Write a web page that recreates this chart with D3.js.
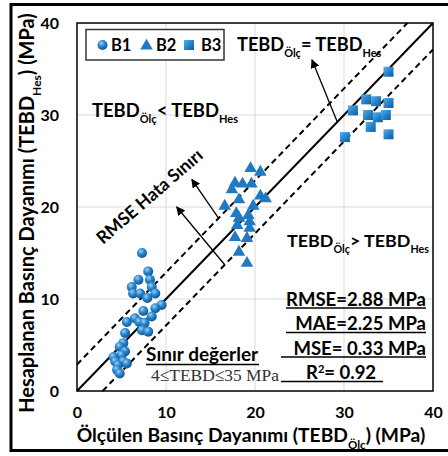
<!DOCTYPE html>
<html>
<head>
<meta charset="utf-8">
<script src="https://cdn.jsdelivr.net/npm/d3@7"></script>
<style>
  html, body { margin: 0; background: #fff; overflow: hidden; }
  svg { display: block; }
  text { font-family: Lato, "Open Sans", sans-serif; font-weight: bold; fill: #000; }
</style>
</head>
<body>
<div id="chart"></div>
<script>
// measured (Ölç) vs predicted (Hes) values, MPa
const b1Measured  = [7.3, 8.0, 6.9, 8.2, 6.15, 8.4, 6.3, 7.1, 8.8, 7.9, 9.5, 8.8, 7.45, 6.5, 8.4, 5.6, 7.0, 7.6, 5.4, 7.3, 8.0, 5.2, 4.8, 5.4, 5.0, 4.1, 4.3, 5.2, 5.6, 4.6, 4.5, 4.8];
const b1Predicted = [15.0, 13.0, 12.1, 12.1, 11.3, 11.3, 10.6, 10.6, 10.6, 10.1, 9.35, 9.0, 8.7, 7.9, 8.1, 7.5, 7.5, 7.4, 6.3, 6.6, 6.45, 5.2, 4.8, 4.3, 3.9, 3.7, 3.2, 3.2, 3.0, 2.8, 2.3, 1.9];
const b2Measured  = [19.5, 20.6, 17.75, 18.6, 19.6, 17.4, 18.2, 20.6, 21.2, 16.6, 19.8, 17.9, 19.25, 18.2, 19.4, 18.0, 19.4, 17.75, 19.1, 18.2, 19.1];
const b2Predicted = [24.2, 23.8, 22.6, 22.5, 22.5, 21.9, 20.8, 21.2, 20.9, 20.1, 20.1, 19.3, 19.1, 18.8, 18.4, 18.0, 17.7, 16.7, 16.6, 15.1, 13.9];
const b3Measured  = [35.0, 32.5, 33.6, 35.0, 31.0, 32.7, 33.8, 34.7, 33.0, 30.1, 35.0];
const b3Predicted = [34.7, 31.7, 31.5, 31.3, 30.5, 30.0, 29.75, 30.0, 28.7, 27.6, 27.9];

const axisTicks = [0, 10, 20, 30, 40];
const rmseBand = 2.88;
const seriesNames = ["B1", "B2", "B3"];
const statLabels = ["RMSE=2.88 MPa", "MAE=2.25 MPa", "MSE= 0.33 MPa"];
const r2Label = "= 0.92";
// arrows: [fromX, fromY, toX, toY] in data units
const arrowLines = [[29.25, 29.25, 26.4, 36.0], [15.9, 18.78, 12.9, 23.0], [16.6, 13.72, 11.2, 20.0]];

const margin = { top: 23, left: 77, right: 15, bottom: 65 },
  width = 448 - margin.left - margin.right,
  height = 456 - margin.top - margin.bottom;

const svg = d3.select("#chart").append("svg")
  .attr("width", 448).attr("height", 456);

// outer frame (right side falls outside the picture)
svg.append("rect")
  .attr("x", 11).attr("y", 4.5).attr("width", 445).attr("height", 446)
  .attr("fill", "none").attr("stroke", "#000").attr("stroke-width", 3);

const defs = svg.append("defs");
const ball = defs.append("radialGradient").attr("id", "ball")
  .attr("cx", "38%").attr("cy", "32%").attr("r", "70%");
ball.append("stop").attr("offset", "0%").attr("stop-color", "#9ad0f5");
ball.append("stop").attr("offset", "45%").attr("stop-color", "#2d8ad3");
ball.append("stop").attr("offset", "100%").attr("stop-color", "#0b528f");
const bevel = defs.append("linearGradient").attr("id", "bevel")
  .attr("x1", "0").attr("y1", "0").attr("x2", "1").attr("y2", "1");
bevel.append("stop").attr("offset", "0%").attr("stop-color", "#5aaee8");
bevel.append("stop").attr("offset", "55%").attr("stop-color", "#2280c9");
bevel.append("stop").attr("offset", "100%").attr("stop-color", "#125a94");
defs.append("marker").attr("id", "head")
  .attr("viewBox", "0 0 10 10").attr("refX", 9).attr("refY", 5)
  .attr("markerWidth", 9).attr("markerHeight", 9)
  .attr("markerUnits", "userSpaceOnUse").attr("orient", "auto")
  .append("path").attr("d", "M0,0L10,5L0,10z").attr("fill", "#000");

const g = svg.append("g")
  .attr("transform", "translate(" + margin.left + "," + margin.top + ")");

const x = d3.scaleLinear().domain([0, 40]).range([0, width]);
const y = d3.scaleLinear().domain([0, 40]).range([height, 0]);

// gridlines
g.append("g").selectAll("line").data(axisTicks.slice(1, -1)).join("line")
  .attr("x1", d => x(d)).attr("x2", d => x(d)).attr("y1", 0).attr("y2", height)
  .attr("stroke", "#d9d9d9");
g.append("g").selectAll("line").data(axisTicks.slice(1, -1)).join("line")
  .attr("y1", d => y(d)).attr("y2", d => y(d)).attr("x1", 0).attr("x2", width)
  .attr("stroke", "#d9d9d9");

// axes
const xAxis = g.append("g").attr("transform", "translate(0," + height + ")")
  .call(d3.axisBottom(x).tickValues(axisTicks).tickSize(0).tickPadding(16));
const yAxis = g.append("g")
  .call(d3.axisLeft(y).tickValues(axisTicks).tickSize(0).tickPadding(18));
[xAxis, yAxis].forEach(a => {
  a.select(".domain").remove();
  a.selectAll("text").style("font-size", "16px")
    .style("font-family", "Lato, sans-serif").style("font-weight", "bold");
});

g.append("rect").attr("width", width).attr("height", height)
  .attr("fill", "none").attr("stroke", "#000").attr("stroke-width", 1.5);

// 1:1 line and RMSE band
const line = d3.line().x(d => x(d[0])).y(d => y(d[1]));
g.append("path").attr("d", line([[0, 0], [40, 40]]))
  .attr("stroke", "#000").attr("stroke-width", 2).attr("fill", "none");
g.append("path").attr("d", line([[0, rmseBand], [40 - rmseBand, 40]]))
  .attr("stroke", "#000").attr("stroke-width", 2).attr("stroke-dasharray", "6,4").attr("fill", "none");
g.append("path").attr("d", line([[rmseBand, 0], [40, 40 - rmseBand]]))
  .attr("stroke", "#000").attr("stroke-width", 2).attr("stroke-dasharray", "6,4").attr("fill", "none");

// arrows
g.append("g").selectAll("line").data(arrowLines).join("line")
  .attr("x1", d => x(d[0])).attr("y1", d => y(d[1]))
  .attr("x2", d => x(d[2])).attr("y2", d => y(d[3]))
  .attr("stroke", "#000").attr("stroke-width", 1.3).attr("marker-end", "url(#head)");

// points
g.append("g").selectAll("circle").data(d3.zip(b1Measured, b1Predicted)).join("circle")
  .attr("cx", d => x(d[0])).attr("cy", d => y(d[1])).attr("r", 5)
  .attr("fill", "url(#ball)");
const tri = d3.symbol().type(d3.symbolTriangle).size(68);
g.append("g").selectAll("path").data(d3.zip(b2Measured, b2Predicted)).join("path")
  .attr("transform", d => "translate(" + x(d[0]) + "," + y(d[1]) + ")")
  .attr("d", tri).attr("fill", "#2079c3");
const sq = d3.symbol().type(d3.symbolSquare).size(100);
g.append("g").selectAll("path").data(d3.zip(b3Measured, b3Predicted)).join("path")
  .attr("transform", d => "translate(" + x(d[0]) + "," + y(d[1]) + ")")
  .attr("d", sq).attr("fill", "url(#bevel)");

// text with subscripts, sizes in em so the whole label can be rescaled
function richText(parent, parts, size) {
  const t = parent.append("text").style("font-size", size + "px");
  let shift = 0;
  parts.forEach(([s, sub]) => {
    const target = sub ? 0.34 : 0;
    const own = sub ? 0.6 : 1;
    t.append("tspan").attr("dy", ((target - shift) / own) + "em")
      .style("font-size", sub ? "0.6em" : null).text(s);
    shift = target;
  });
  return t;
}

// scale a label's font so its drawn width matches the reference
function fit(t, target) {
  const fs = parseFloat(t.style("font-size"));
  const len = t.node().getBBox().width;
  t.style("font-size", (fs * target / len) + "px");
  return t;
}

// legend
svg.append("rect").attr("x", 86).attr("y", 29.5).attr("width", 138).attr("height", 30.5)
  .attr("fill", "#fff").attr("stroke", "#333").attr("stroke-width", 1.5);
const lg = svg.append("g");
lg.append("circle").attr("cx", 102.5).attr("cy", 45).attr("r", 5).attr("fill", "url(#ball)");
lg.append("path").attr("transform", "translate(146.5,46)").attr("d", tri).attr("fill", "#2079c3");
lg.append("path").attr("transform", "translate(189,45)").attr("d", sq).attr("fill", "url(#bevel)");
lg.selectAll("text").data(seriesNames).join("text")
  .attr("x", (d, i) => [111, 156, 201][i]).attr("y", 51)
  .style("font-size", "16.5px").text(d => d);

// annotations
richText(svg, [["TEBD"], ["Ölç", 1], ["= TEBD"], ["Hes", 1]], 18.2)
  .attr("x", 237).attr("y", 51);
richText(svg, [["TEBD"], ["Ölç", 1], ["< TEBD"], ["Hes", 1]], 18.4)
  .attr("x", 92).attr("y", 117);
richText(svg, [["TEBD"], ["Ölç", 1], ["> TEBD"], ["Hes", 1]], 17.9)
  .attr("x", 287).attr("y", 247);
fit(svg.append("text").attr("transform", "translate(103,245) rotate(-41)")
  .style("font-size", "15px").text("RMSE Hata Sınırı"), 134);

// statistics box
const stats = statLabels.map((s, i) => svg.append("text")
  .attr("x", 426).attr("y", 306 + i * 24.3)
  .attr("text-anchor", "end").style("font-size", "18px").text(s));
fit(stats[0], 140);
const statSize = stats[0].style("font-size");
stats.forEach(t => t.style("font-size", statSize));
const r2 = svg.append("text").attr("x", 306).attr("y", 379).style("font-size", statSize);
r2.append("tspan").text("R");
r2.append("tspan").attr("dy", "-0.55em").style("font-size", "0.6em").text("2");
r2.append("tspan").attr("dy", "0.33em").text(r2Label);
const underlines = [[286, 426, 308], [286, 426, 332.5], [281, 426, 357], [281, 383, 381.5]];
svg.append("g").selectAll("line").data(underlines).join("line")
  .attr("x1", d => d[0]).attr("x2", d => d[1]).attr("y1", d => d[2]).attr("y2", d => d[2])
  .attr("stroke", "#000").attr("stroke-width", 1.5);

fit(svg.append("text").attr("x", 146).attr("y", 361).style("font-size", "17px")
  .text("Sınır değerler"), 113);
svg.append("line").attr("x1", 146).attr("x2", 259).attr("y1", 364.5).attr("y2", 364.5)
  .attr("stroke", "#000").attr("stroke-width", 1.5);
fit(svg.append("text").attr("x", 151).attr("y", 381)
  .style("font-family", "'Liberation Serif', 'DejaVu Serif', serif").style("font-weight", "normal")
  .style("font-size", "16px").style("fill", "#333").text("4≤TEBD≤35 MPa"), 128);

// axis titles
fit(richText(svg, [["Ölçülen Basınç Dayanımı (TEBD"], ["Ölç", 1], [") (MPa)"]], 16)
  .attr("x", 251).attr("y", 442).attr("text-anchor", "middle"), 349);
fit(richText(svg, [["Hesaplanan Basınç Dayanımı (TEBD"], ["Hes", 1], [") (MPa)"]], 16)
  .attr("transform", "translate(34,213) rotate(-90)").attr("text-anchor", "middle"), 400);
</script>
</body>
</html>
